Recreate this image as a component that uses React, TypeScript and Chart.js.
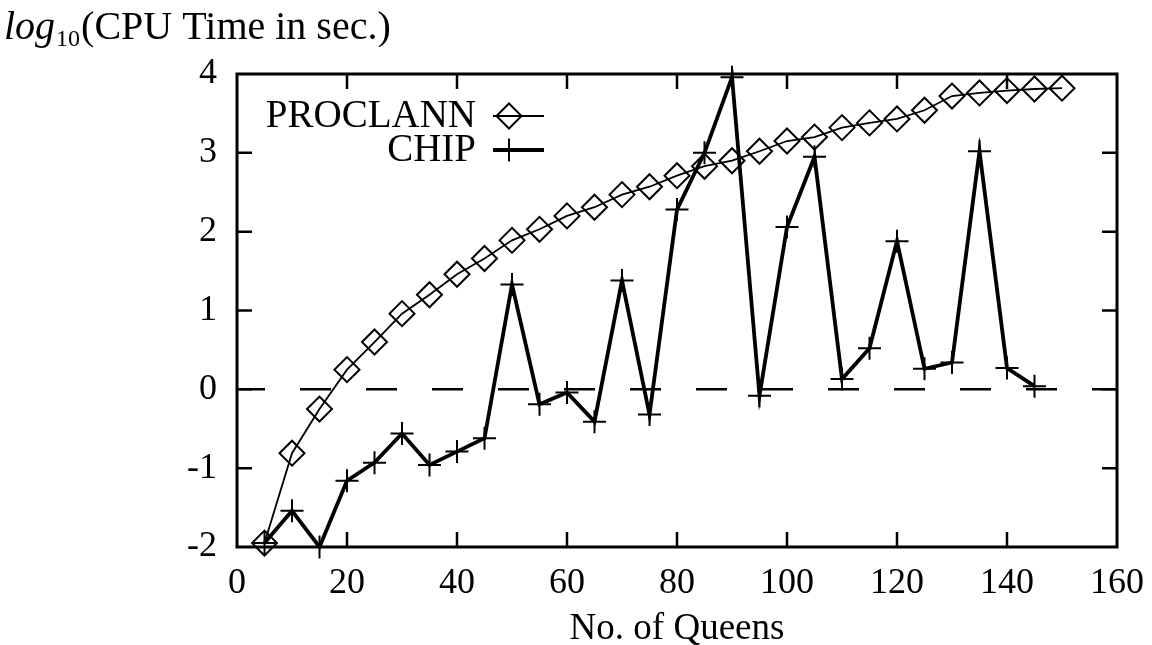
import React, { useEffect, useRef } from "react";
import { Chart, registerables } from "chart.js";

Chart.register(...registerables);

// ---- data ----
const queensProclann = [5, 10, 15, 20, 25, 30, 35, 40, 45, 50, 55, 60, 65, 70, 75, 80, 85, 90, 95, 100, 105, 110, 115, 120, 125, 130, 135, 140, 145, 150];
const proclannLogTime = [-1.95, -0.81, -0.25, 0.25, 0.6, 0.96, 1.2, 1.46, 1.66, 1.89, 2.03, 2.2, 2.31, 2.47, 2.57, 2.71, 2.83, 2.9, 3.02, 3.15, 3.2, 3.32, 3.38, 3.43, 3.54, 3.72, 3.76, 3.79, 3.81, 3.82];

const queensChip = [5, 10, 15, 20, 25, 30, 35, 40, 45, 50, 55, 60, 65, 70, 75, 80, 85, 90, 95, 100, 105, 110, 115, 120, 125, 130, 135, 140, 145];
const chipLogTime = [-1.95, -1.54, -2.0, -1.16, -0.93, -0.56, -0.96, -0.79, -0.62, 1.33, -0.19, -0.04, -0.41, 1.38, -0.32, 2.28, 3.0, 3.96, -0.08, 2.06, 2.95, 0.13, 0.52, 1.88, 0.26, 0.34, 3.02, 0.27, 0.04];

const xTickValues = [0, 20, 40, 60, 80, 100, 120, 140, 160];
const yTickValues = [-2, -1, 0, 1, 2, 3, 4];

const seriesNames = ["PROCLANN", "CHIP"];
const yTitleFunc = "log";
const yTitleSub = "10";
const yTitleRest = "(CPU Time in sec.)";
const xTitle = "No. of Queens";

const SERIF = '"Liberation Serif", "Times New Roman", serif';

const framePlugin = {
  id: "gnuFrame",
  beforeDatasetsDraw(chart: any) {
    const { ctx, chartArea: a, scales } = chart;
    const xs = scales.x;
    const ys = scales.y;
    ctx.save();
    ctx.strokeStyle = "#000";
    // zero axis (dashed)
    const y0 = ys.getPixelForValue(0);
    ctx.lineWidth = 2.5;
    ctx.setLineDash([31, 35]);
    ctx.lineDashOffset = 3;
    ctx.beginPath();
    ctx.moveTo(a.left, y0);
    ctx.lineTo(a.right, y0);
    ctx.stroke();
    ctx.setLineDash([]);
    // frame
    ctx.lineWidth = 3;
    ctx.strokeRect(a.left, a.top, a.right - a.left, a.bottom - a.top);
    // inward ticks, mirrored
    const tl = 15;
    ctx.lineWidth = 2.5;
    ctx.beginPath();
    xTickValues.forEach((v) => {
      if (v === xs.min || v === xs.max) return;
      const px = xs.getPixelForValue(v);
      ctx.moveTo(px, a.bottom);
      ctx.lineTo(px, a.bottom - tl);
      ctx.moveTo(px, a.top);
      ctx.lineTo(px, a.top + tl);
    });
    yTickValues.forEach((v) => {
      if (v === ys.min || v === ys.max) return;
      const py = ys.getPixelForValue(v);
      ctx.moveTo(a.left, py);
      ctx.lineTo(a.left + tl, py);
      ctx.moveTo(a.right, py);
      ctx.lineTo(a.right - tl, py);
    });
    ctx.stroke();
    ctx.restore();
  },
  afterDraw(chart: any) {
    const { ctx } = chart;
    ctx.save();
    ctx.fillStyle = "#000";
    ctx.strokeStyle = "#000";
    // top-left y-axis caption
    ctx.textAlign = "left";
    ctx.textBaseline = "alphabetic";
    let x = 4;
    ctx.font = `italic 40px ${SERIF}`;
    ctx.fillText(yTitleFunc, x, 39);
    x += ctx.measureText(yTitleFunc).width + 1;
    ctx.font = `24px ${SERIF}`;
    ctx.fillText(yTitleSub, x, 46);
    x += ctx.measureText(yTitleSub).width + 1;
    ctx.font = `40px ${SERIF}`;
    ctx.fillText(yTitleRest, x, 39);

    // key
    const ds = chart.data.datasets;
    const rows = [116, 150];
    ctx.font = `39px ${SERIF}`;
    ctx.textAlign = "right";
    ctx.textBaseline = "middle";
    rows.forEach((ry, i) => {
      ctx.fillText(seriesNames[i], 476, ry + 1);
      ctx.lineWidth = ds[i].borderWidth;
      ctx.beginPath();
      ctx.moveTo(493, ry);
      ctx.lineTo(544, ry);
      ctx.stroke();
      const r = ds[i].pointRadius;
      ctx.lineWidth = ds[i].pointBorderWidth;
      ctx.beginPath();
      const mx = 509;
      if (ds[i].pointStyle === "rectRot") {
        ctx.moveTo(mx - r, ry);
        ctx.lineTo(mx, ry - r);
        ctx.lineTo(mx + r, ry);
        ctx.lineTo(mx, ry + r);
        ctx.closePath();
      } else {
        ctx.moveTo(mx - r, ry);
        ctx.lineTo(mx + r, ry);
        ctx.moveTo(mx, ry - r);
        ctx.lineTo(mx, ry + r);
      }
      ctx.stroke();
    });
    ctx.restore();
  },
};

export default function App() {
  const canvasRef = useRef<HTMLCanvasElement | null>(null);

  useEffect(() => {
    const canvas = canvasRef.current;
    if (!canvas) return;
    const chart = new Chart(canvas, {
      type: "scatter",
      data: {
        datasets: [
          {
            label: seriesNames[0],
            data: queensProclann.map((q, i) => ({ x: q, y: proclannLogTime[i] })),
            showLine: true,
            borderColor: "#000",
            borderWidth: 1.8,
            pointStyle: "rectRot",
            pointRadius: 12.5,
            pointBorderWidth: 2,
            pointBorderColor: "#000",
            pointBackgroundColor: "rgba(0,0,0,0)",
            clip: false as any,
            tension: 0,
          },
          {
            label: seriesNames[1],
            data: queensChip.map((q, i) => ({ x: q, y: chipLogTime[i] })),
            showLine: true,
            borderColor: "#000",
            borderWidth: 3.8,
            pointStyle: "cross",
            pointRadius: 11.5,
            pointBorderWidth: 2,
            pointBorderColor: "#000",
            pointBackgroundColor: "rgba(0,0,0,0)",
            clip: false as any,
            tension: 0,
          },
        ] as any,
      },
      options: {
        responsive: false,
        animation: false,
        devicePixelRatio: 1,
        events: [],
        layout: { padding: { left: 0, top: 74, right: 35, bottom: 0 } },
        plugins: {
          legend: { display: false },
          tooltip: { enabled: false },
          title: { display: false },
        },
        scales: {
          x: {
            type: "linear",
            position: "bottom",
            min: 0,
            max: 160,
            afterBuildTicks: (s: any) => {
              s.ticks = xTickValues.map((v) => ({ value: v }));
            },
            afterFit: (s: any) => {
              s.height = 98;
              s.paddingLeft = 0;
              s.paddingRight = 0;
            },
            ticks: {
              color: "#000",
              font: { family: SERIF, size: 36 },
              padding: 15,
              maxRotation: 0,
              autoSkip: false,
            },
            grid: { display: false, drawTicks: false },
            border: { display: false },
            title: {
              display: true,
              text: xTitle,
              color: "#000",
              font: { family: SERIF, size: 37, lineHeight: 1 },
              padding: { top: 0, bottom: -3 },
            },
          },
          y: {
            type: "linear",
            min: -2,
            max: 4,
            afterBuildTicks: (s: any) => {
              s.ticks = yTickValues.map((v) => ({ value: v }));
            },
            afterFit: (s: any) => {
              s.width = 237;
              s.paddingTop = 0;
              s.paddingBottom = 0;
            },
            ticks: {
              color: "#000",
              font: { family: SERIF, size: 36 },
              padding: 20,
              autoSkip: false,
            },
            grid: { display: false, drawTicks: false },
            border: { display: false },
          },
        },
      } as any,
      plugins: [framePlugin],
    });
    return () => chart.destroy();
  }, []);

  return (
    <div style={{ position: "absolute", left: 0, top: 0, width: 1152, height: 645, background: "#fff" }}>
      <canvas ref={canvasRef} width={1152} height={645} style={{ display: "block" }} />
    </div>
  );
}
